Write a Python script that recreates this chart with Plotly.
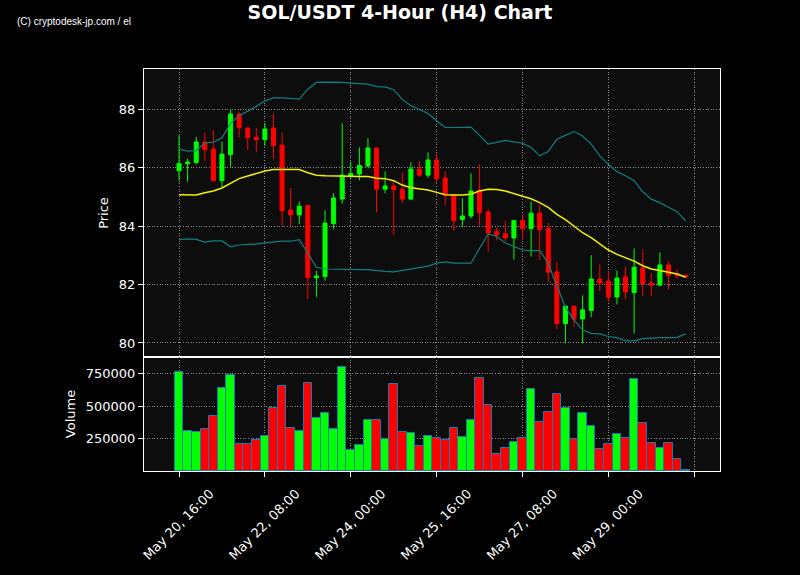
import pandas as pd
import plotly.graph_objects as go

# ---- data ----
start_time = "2024-05-20 16:00"
n_candles = 60

open_ = [85.89, 86.13, 86.17, 86.87, 86.63, 85.55, 86.44, 87.83, 87.35, 87.04,
         86.95, 87.35, 86.77, 84.55, 84.38, 84.70, 82.23, 82.27, 84.08, 84.92,
         85.72, 85.78, 86.05, 86.67, 85.26, 85.37, 85.26, 84.92, 85.95, 85.74,
         86.26, 85.64, 85.06, 84.22, 84.34, 85.23, 84.48, 83.81, 83.74, 83.59,
         84.19, 83.91, 84.44, 83.92, 82.43, 80.66, 81.26, 80.82, 81.11, 82.19,
         82.12, 81.57, 82.26, 81.72, 82.56, 82.05, 81.98, 82.67, 82.37, 82.32]
high = [87.10, 86.31, 87.05, 87.20, 87.28, 86.89, 88.00, 87.91, 87.36, 87.36,
        87.53, 87.85, 87.20, 85.30, 84.84, 84.70, 82.47, 84.54, 85.12, 87.51,
        86.20, 86.69, 87.00, 86.69, 85.87, 85.54, 85.83, 86.18, 86.21, 86.52,
        86.46, 85.88, 85.06, 84.95, 85.80, 86.11, 84.57, 83.95, 84.18, 84.20,
        84.39, 84.84, 84.74, 84.11, 82.76, 81.26, 81.26, 81.63, 83.00, 82.69,
        82.46, 82.48, 82.62, 83.23, 83.20, 82.38, 83.10, 82.80, 82.52, 82.32]
low = [85.55, 85.52, 86.11, 86.22, 85.53, 85.31, 86.03, 87.03, 86.59, 86.52,
       86.74, 86.28, 84.00, 84.00, 84.06, 81.49, 81.58, 82.13, 83.91, 84.77,
       85.61, 85.56, 86.01, 84.46, 85.12, 83.68, 84.77, 84.89, 85.69, 85.65,
       85.52, 84.70, 83.84, 83.98, 84.26, 84.02, 83.12, 83.51, 83.49, 82.86,
       83.54, 82.96, 82.84, 82.09, 80.47, 79.99, 80.56, 79.99, 80.88, 81.77,
       81.41, 81.32, 81.49, 80.33, 81.60, 81.60, 81.93, 81.83, 82.20, 82.26]
close = [86.14, 86.19, 86.87, 86.61, 85.55, 86.46, 87.83, 87.36, 87.02, 86.95,
         87.32, 86.75, 84.52, 84.38, 84.68, 82.23, 82.29, 84.10, 84.96, 85.74,
         85.80, 86.07, 86.67, 85.26, 85.37, 85.24, 84.92, 85.95, 85.74, 86.26,
         85.61, 85.06, 84.18, 84.34, 85.20, 84.46, 83.76, 83.69, 83.59, 84.19,
         83.91, 84.44, 83.87, 82.42, 80.66, 81.26, 80.82, 81.13, 82.19, 82.05,
         81.57, 82.22, 81.75, 82.59, 82.03, 81.98, 82.67, 82.32, 82.30, 82.26]
volume = [765000, 311500, 301000, 327000, 427000, 642000, 742000, 209000, 209000, 242000,
          273000, 488000, 658000, 332000, 311500, 681000, 409000, 450000, 327000, 804000,
          165000, 204000, 396000, 396000, 250000, 673000, 304000, 296000, 191000, 273000,
          258000, 242000, 335000, 265000, 391000, 719000, 512000, 135000, 176000, 227000,
          253000, 635000, 381000, 453000, 596000, 488000, 245000, 450000, 350000, 173000,
          212000, 288000, 258000, 711000, 373000, 219000, 181000, 219000, 96000, 6000]
sma = [85.07, 85.06, 85.06, 85.14, 85.20, 85.30, 85.46, 85.62, 85.71, 85.80,
       85.88, 85.93, 85.93, 85.93, 85.93, 85.82, 85.74, 85.72, 85.72, 85.71,
       85.70, 85.69, 85.69, 85.63, 85.62, 85.55, 85.40, 85.31, 85.28, 85.23,
       85.15, 85.07, 85.06, 85.06, 85.09, 85.20, 85.26, 85.25, 85.20, 85.12,
       85.02, 84.93, 84.80, 84.64, 84.40, 84.22, 84.01, 83.77, 83.60, 83.40,
       83.18, 83.03, 82.92, 82.80, 82.64, 82.53, 82.48, 82.42, 82.36, 82.25]
bb_upper = [86.62, 86.56, 86.58, 86.83, 86.87, 87.02, 87.51, 87.77, 87.93, 88.09,
            88.28, 88.38, 88.38, 88.36, 88.34, 88.68, 88.91, 88.92, 88.92, 88.91,
            88.89, 88.88, 88.85, 88.77, 88.76, 88.66, 88.33, 88.11, 87.98, 87.85,
            87.60, 87.37, 87.37, 87.38, 87.38, 87.10, 86.80, 86.86, 86.93, 86.88,
            86.83, 86.69, 86.40, 86.55, 86.97, 87.10, 87.23, 87.08, 86.80, 86.40,
            86.11, 85.86, 85.72, 85.55, 85.17, 84.92, 84.80, 84.64, 84.49, 84.18]
bb_lower = [83.53, 83.56, 83.54, 83.45, 83.49, 83.49, 83.29, 83.35, 83.37, 83.38,
            83.42, 83.45, 83.48, 83.48, 83.53, 83.07, 82.59, 82.53, 82.52, 82.52,
            82.51, 82.51, 82.51, 82.47, 82.45, 82.43, 82.48, 82.55, 82.59, 82.63,
            82.73, 82.77, 82.73, 82.72, 82.73, 83.24, 83.73, 83.64, 83.42, 83.30,
            83.18, 83.16, 83.16, 82.72, 81.93, 81.21, 80.79, 80.44, 80.33, 80.31,
            80.22, 80.18, 80.07, 80.07, 80.15, 80.17, 80.18, 80.18, 80.19, 80.31]
tick_labels = ["May 20, 16:00", "May 22, 08:00", "May 24, 00:00", "May 25, 16:00",
               "May 27, 08:00", "May 29, 00:00", ""]
price_ticks = [80, 82, 84, 86, 88]
volume_ticks = [250000, 500000, 750000]

# ---- build ----
times = pd.date_range(start_time, periods=n_candles, freq="4h")
tick_vals = pd.date_range(start_time, periods=len(tick_labels), freq="40h")
GREEN = "#00ff00"
RED = "#ff0000"
vol_colors = [GREEN if c >= o else RED for o, c in zip(open_, close)]
bar_w = 4 * 3600 * 1000

x_range = [pd.Timestamp(start_time) - pd.Timedelta(hours=4 * 4.08),
           pd.Timestamp(start_time) + pd.Timedelta(hours=4 * 63.0)]

fig = go.Figure()
fig.add_trace(go.Candlestick(
    x=times, open=open_, high=high, low=low, close=close,
    increasing=dict(line=dict(color=GREEN, width=1), fillcolor=GREEN),
    decreasing=dict(line=dict(color=RED, width=1), fillcolor=RED),
    whiskerwidth=0, xaxis="x", yaxis="y", showlegend=False, name="SOL/USDT"))
fig.add_trace(go.Scatter(x=times, y=bb_upper, mode="lines",
                         line=dict(color="#0f7f80", width=1.2),
                         xaxis="x", yaxis="y", showlegend=False))
fig.add_trace(go.Scatter(x=times, y=bb_lower, mode="lines",
                         line=dict(color="#0f7f80", width=1.2),
                         xaxis="x", yaxis="y", showlegend=False))
fig.add_trace(go.Scatter(x=times, y=sma, mode="lines",
                         line=dict(color="#f2f200", width=1.5),
                         xaxis="x", yaxis="y", showlegend=False))
fig.add_trace(go.Bar(x=times, y=volume, width=bar_w,
                     marker=dict(color=vol_colors, line=dict(color="#1f77b4", width=1)),
                     xaxis="x2", yaxis="y2", showlegend=False))

grid = dict(showgrid=True, gridcolor="#8c8c8c", griddash="1px,1.6px", gridwidth=1)
frame = dict(showline=True, linecolor="white", linewidth=1, mirror=True,
             ticks="outside", tickcolor="white", ticklen=5,
             tickfont=dict(color="white", size=13, family="DejaVu Sans"),
             zeroline=False)
split = 114 / 402

fig.update_layout(
    width=800, height=575,
    paper_bgcolor="#000000", plot_bgcolor="#0d0d0d",
    margin=dict(l=144, r=80, t=69, b=104),
    font=dict(family="DejaVu Sans", color="white", size=13),
    title=dict(text="<b>SOL/USDT 4-Hour (H4) Chart</b>", x=0.5, xanchor="center",
               y=1 - 12.5 / 575, yanchor="middle",
               font=dict(size=19, color="white")),
    bargap=0, boxgap=0.33,
    xaxis=dict(type="date", domain=[0, 1], anchor="y", range=x_range,
               tickvals=tick_vals, ticktext=tick_labels, showticklabels=False,
               rangeslider=dict(visible=False), **grid,
               **{k: v for k, v in frame.items() if k != "ticks"}, ticks=""),
    yaxis=dict(domain=[split, 1], anchor="x", range=[79.52, 89.37],
               tickvals=price_ticks,
               title=dict(text="Price", font=dict(size=13), standoff=7),
               **grid, **frame),
    xaxis2=dict(type="date", domain=[0, 1], anchor="y2", range=x_range, matches="x",
                tickvals=tick_vals, ticktext=tick_labels, tickangle=-45,
                ticklabelshift=31, ticklabelstandoff=4,
                **grid, **frame),
    yaxis2=dict(domain=[0, split], anchor="x2", range=[0, 880000],
                tickvals=volume_ticks, tickformat="d",
                title=dict(text="Volume", font=dict(size=13), standoff=7),
                **grid, **frame),
    annotations=[dict(text="(C) cryptodesk-jp.com / el", xref="paper", yref="paper",
                      x=(15 - 144) / 576, y=1 + (69 - 21) / 402,
                      xanchor="left", yanchor="middle", showarrow=False,
                      font=dict(size=10, color="white", family="Liberation Sans"))],
)

fig.write_html("out.html", config={"displayModeBar": False},
               post_script="document.body.style.margin='0';")
